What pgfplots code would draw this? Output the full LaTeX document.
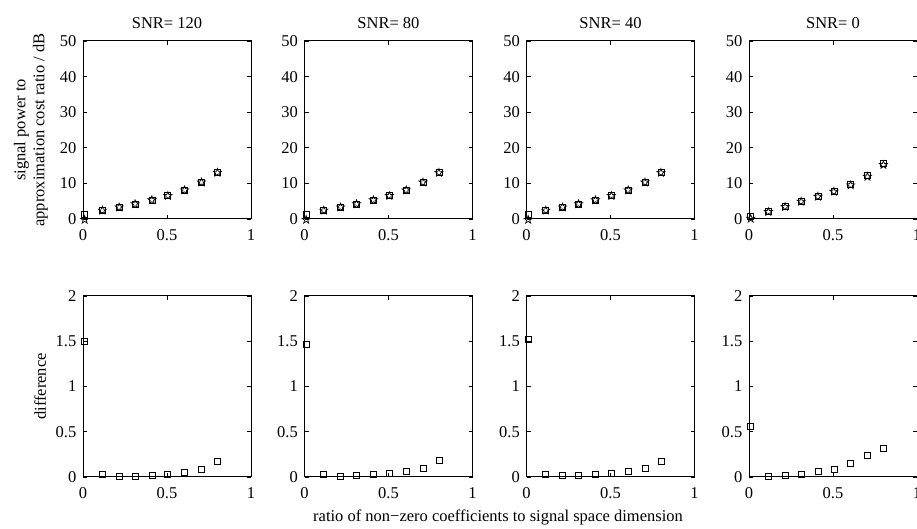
\documentclass[border=0pt]{standalone}
\usepackage{fontspec}
\setmainfont{Liberation Serif}
\usepackage{pgfplots}
\pgfplotsset{compat=1.18}
\pgfdeclareplotmark{pentagram}{%
  \pgfpathmoveto{\pgfpointpolar{90}{\pgfplotmarksize}}%
  \pgfpathlineto{\pgfpointpolar{126}{0.40\pgfplotmarksize}}%
  \pgfpathlineto{\pgfpointpolar{162}{\pgfplotmarksize}}%
  \pgfpathlineto{\pgfpointpolar{198}{0.40\pgfplotmarksize}}%
  \pgfpathlineto{\pgfpointpolar{234}{\pgfplotmarksize}}%
  \pgfpathlineto{\pgfpointpolar{270}{0.40\pgfplotmarksize}}%
  \pgfpathlineto{\pgfpointpolar{306}{\pgfplotmarksize}}%
  \pgfpathlineto{\pgfpointpolar{342}{0.40\pgfplotmarksize}}%
  \pgfpathlineto{\pgfpointpolar{18}{\pgfplotmarksize}}%
  \pgfpathlineto{\pgfpointpolar{54}{0.40\pgfplotmarksize}}%
  \pgfpathclose\pgfusepathqstroke}
\pgfplotsset{
  mstyle/.style={
    scale only axis, width=168pt, anchor=south west,
    xmin=0, xmax=1, xtick={0,0.5,1},
    tick align=inside, major tick length=4pt,
    axis line style={line width=1pt},
    tick style={line width=0.6pt, black},
    clip=false,
    /pgf/number format/assume math mode=true,
    xticklabel style={yshift=-5pt},
    yticklabel style={xshift=-1pt},
    every axis title/.style={at={(0.5,1)}, anchor=south, yshift=7pt},
  },
  toprow/.style={mstyle, height=178pt, ymin=0, ymax=50, ytick={0,10,20,30,40,50}},
  botrow/.style={mstyle, height=181pt, ymin=0, ymax=2, ytick={0,0.5,1,1.5,2}},
  sq/.style={only marks, mark=square, mark size=3pt, black, line width=0.7pt},
  st/.style={only marks, mark=pentagram, mark size=4.2pt, black, line width=0.7pt},
}
\begin{document}
\fontsize{16.5}{19}\selectfont
\begin{tikzpicture}
\path[use as bounding box] (0,0) rectangle (917pt,529pt);
% ---------- top row ----------
\begin{axis}[toprow, at={(83pt,310pt)}, title={SNR= 120},
  ylabel={signal power to\\approximation cost ratio / dB},
  ylabel style={at={(axis description cs:-0.31,0.5)}, anchor=center, align=center, rotate=0}]
\addplot[st] coordinates {(0.01,-0.2) (0.115,2.40) (0.215,3.30) (0.31,4.20) (0.41,5.30) (0.505,6.50) (0.605,8.10) (0.705,10.30) (0.80,13.00)};
\addplot[sq] coordinates {(0.01,1.30) (0.115,2.43) (0.215,3.31) (0.31,4.21) (0.41,5.32) (0.505,6.53) (0.605,8.15) (0.705,10.38) (0.80,13.17)};
\end{axis}
\begin{axis}[toprow, at={(304.5pt,310pt)}, title={SNR= 80}]
\addplot[st] coordinates {(0.01,-0.2) (0.115,2.40) (0.215,3.30) (0.31,4.20) (0.41,5.30) (0.505,6.50) (0.605,8.10) (0.705,10.30) (0.80,13.00)};
\addplot[sq] coordinates {(0.01,1.27) (0.115,2.43) (0.215,3.31) (0.31,4.22) (0.41,5.33) (0.505,6.54) (0.605,8.16) (0.705,10.40) (0.80,13.18)};
\end{axis}
\begin{axis}[toprow, at={(526.5pt,310pt)}, title={SNR= 40}]
\addplot[st] coordinates {(0.01,-0.2) (0.115,2.40) (0.215,3.30) (0.31,4.20) (0.41,5.30) (0.505,6.50) (0.605,8.10) (0.705,10.30) (0.80,13.00)};
\addplot[sq] coordinates {(0.01,1.32) (0.115,2.43) (0.215,3.32) (0.31,4.22) (0.41,5.33) (0.505,6.54) (0.605,8.16) (0.705,10.40) (0.80,13.17)};
\end{axis}
\begin{axis}[toprow, at={(749pt,310pt)}, title={SNR= 0}]
\addplot[st] coordinates {(0.01,0.10) (0.115,2.00) (0.215,3.40) (0.31,4.90) (0.41,6.30) (0.505,7.70) (0.605,9.50) (0.705,11.90) (0.80,15.20)};
\addplot[sq] coordinates {(0.01,0.66) (0.115,2.01) (0.215,3.42) (0.31,4.93) (0.41,6.36) (0.505,7.79) (0.605,9.65) (0.705,12.14) (0.80,15.52)};
\end{axis}
% ---------- bottom row ----------
\begin{axis}[botrow, at={(83pt,52pt)}, ylabel={difference},
  ylabel style={at={(axis description cs:-0.255,0.5)}, anchor=center}]
\addplot[sq] coordinates {(0.01,1.50) (0.115,0.03) (0.215,0.01) (0.31,0.01) (0.41,0.02) (0.505,0.03) (0.605,0.05) (0.705,0.08) (0.80,0.17)};
\end{axis}
\begin{axis}[botrow, at={(304.5pt,52pt)}]
\addplot[sq] coordinates {(0.01,1.47) (0.115,0.03) (0.215,0.01) (0.31,0.02) (0.41,0.03) (0.505,0.04) (0.605,0.06) (0.705,0.10) (0.80,0.18)};
\end{axis}
\begin{axis}[botrow, at={(526.5pt,52pt)}]
\addplot[sq] coordinates {(0.01,1.52) (0.115,0.03) (0.215,0.02) (0.31,0.02) (0.41,0.03) (0.505,0.04) (0.605,0.06) (0.705,0.10) (0.80,0.17)};
\end{axis}
\begin{axis}[botrow, at={(749pt,52pt)}]
\addplot[sq] coordinates {(0.01,0.56) (0.115,0.01) (0.215,0.02) (0.31,0.03) (0.41,0.06) (0.505,0.09) (0.605,0.15) (0.705,0.24) (0.80,0.32)};
\end{axis}
\node[anchor=center] at (498pt,12pt) {ratio of non−zero coefficients to signal space dimension};
\end{tikzpicture}
\end{document}
